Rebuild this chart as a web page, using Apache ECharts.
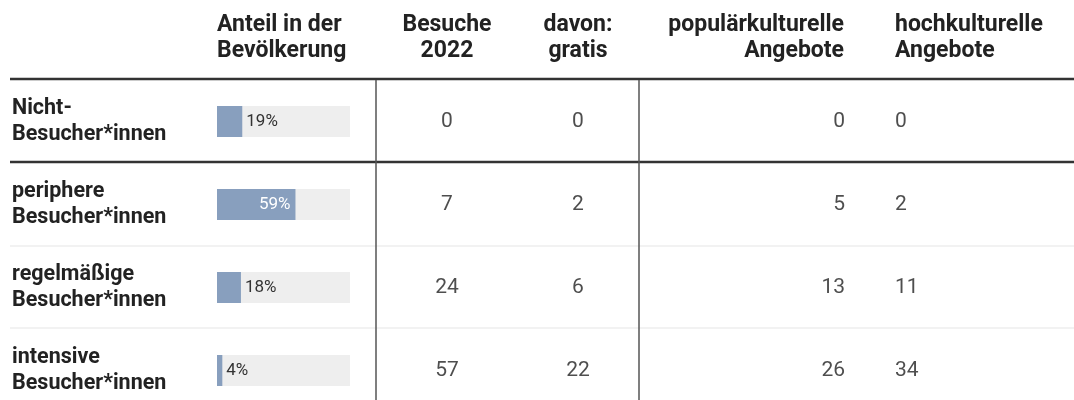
<!DOCTYPE html>
<html>
<head>
<meta charset="utf-8">
<script src="https://cdn.jsdelivr.net/npm/echarts@6/dist/echarts.min.js"></script>
<style>
  html, body { margin: 0; padding: 0; background: #fff; overflow: hidden; }
  /* die letzte Zeile läuft unten aus dem Bild, deshalb ist der Container höher */
  #chart { width: 1074px; height: 416px; }
</style>
</head>
<body>
<div id="chart"></div>
<script>
// Tabellendaten
const groups = ['Nicht-\nBesucher*innen', 'periphere\nBesucher*innen', 'regelmäßige\nBesucher*innen', 'intensive\nBesucher*innen']
const share = [19, 59, 18, 4]
const visits = [0, 7, 24, 57]
const free = [0, 2, 6, 22]
const popular = [0, 5, 13, 26]
const high = [0, 2, 11, 34]

const FONT = 'Roboto, "Noto Sans", sans-serif'
const TOP = 80
const ROWS_H = 332

const chart = echarts.init(document.getElementById('chart'))

// Zahlenspalten: eigenes Grid pro Spalte, verankert an x
const numCols = [
  { x: 447, align: 'center', data: visits },
  { x: 578, align: 'center', data: free },
  { x: 845, align: 'right', data: popular },
  { x: 895, align: 'left', data: high }
]

const grids = [{ left: 217, width: 133, top: TOP, height: ROWS_H }]
const xAxes = [{ gridIndex: 0, type: 'value', min: 0, max: 100, show: false }]
const yAxes = [{
  gridIndex: 0,
  type: 'category',
  data: groups,
  inverse: true,
  axisLine: { show: false },
  axisTick: { show: false },
  axisLabel: {
    align: 'left',
    margin: 205,
    fontFamily: FONT,
    fontWeight: 'bold',
    fontSize: 21.5,
    lineHeight: 26,
    color: '#222'
  }
}]
const series = [{
  type: 'bar',
  xAxisIndex: 0,
  yAxisIndex: 0,
  barWidth: 31,
  showBackground: true,
  backgroundStyle: { color: '#eeeeee' },
  itemStyle: { color: '#889fbe' },
  silent: true,
  label: {
    show: true,
    formatter: '{c}%',
    fontFamily: FONT,
    fontSize: 17,
    distance: 4
  },
  data: share.map(v => v > 40
    ? { value: v, label: { position: 'insideRight', color: '#fff', distance: 5 } }
    : { value: v, label: { position: 'right', color: '#333' } })
}]

numCols.forEach((col, i) => {
  const g = i + 1
  grids.push({ left: col.x, width: 1, top: TOP, height: ROWS_H })
  xAxes.push({ gridIndex: g, type: 'value', min: 0, max: 1, show: false })
  yAxes.push({ gridIndex: g, type: 'category', data: groups, inverse: true, show: false })
  series.push({
    type: 'scatter',
    xAxisIndex: g,
    yAxisIndex: g,
    symbolSize: 0,
    silent: true,
    label: {
      show: true,
      position: 'inside',
      align: col.align,
      formatter: p => String(p.value[2]),
      fontFamily: FONT,
      fontSize: 21,
      color: '#222'
    },
    data: col.data.map((v, r) => [0, r, v])
  })
})

const headStyle = { font: 'bold 23px ' + FONT, fill: '#222', lineHeight: 26, textVerticalAlign: 'middle' }
const headers = [
  { x: 217, text: 'Anteil in der\nBevölkerung', align: 'left' },
  { x: 447, text: 'Besuche\n2022', align: 'center' },
  { x: 578, text: 'davon:\ngratis', align: 'center' },
  { x: 844, text: 'populärkulturelle\nAngebote', align: 'right' },
  { x: 895, text: 'hochkulturelle\nAngebote', align: 'left' }
]

const graphic = headers.map(h => ({
  type: 'text',
  x: h.x,
  y: 38,
  style: Object.assign({}, headStyle, { text: h.text, textAlign: h.align })
}))

// Linien der Tabelle
const hline = (y, w, c) => ({ type: 'line', shape: { x1: 10, y1: y, x2: 1074, y2: y }, style: { stroke: c, lineWidth: w } })
const vline = x => ({ type: 'line', shape: { x1: x, y1: 80, x2: x, y2: 416 }, style: { stroke: '#555', lineWidth: 1.5 } })
graphic.push(
  hline(79, 2.5, '#333'),
  hline(162, 2.5, '#333'),
  hline(246, 1.5, '#eeeeee'),
  hline(328, 1.5, '#eeeeee'),
  vline(376),
  vline(639)
)

chart.setOption({
  animation: false,
  grid: grids,
  xAxis: xAxes,
  yAxis: yAxes,
  series,
  graphic
})
</script>
</body>
</html>
